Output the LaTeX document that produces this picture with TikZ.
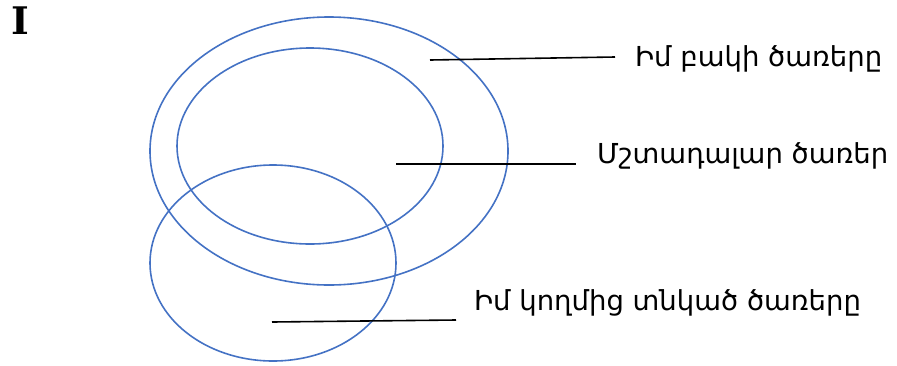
\documentclass[tikz,border=0pt]{standalone}
\usepackage{fontspec}
\setmainfont{DejaVu Sans}
\newfontfamily\romanI{DejaVu Serif}
\definecolor{ringblue}{HTML}{4472C4}
\begin{document}
\begin{tikzpicture}[x=1pt,y=-1pt,
  ring/.style={draw=ringblue,line width=1.6pt},
  leader/.style={draw=black,line width=1.6pt},
  lbl/.style={inner sep=0pt,font=\fontsize{27.5}{30}\selectfont}]
\useasboundingbox (0,0) rectangle (897,365);
\node[inner sep=0pt,font=\romanI\bfseries\fontsize{38}{42}\selectfont] (numI) at (20,21) {I};
\draw[ring] (329,151) ellipse [x radius=179, y radius=134];
\draw[ring] (310,146) ellipse [x radius=133, y radius=98];
\draw[ring] (273,263) ellipse [x radius=123, y radius=98];
\node[lbl,anchor=west] (t1) at (635,59) {Իմ բակի ծառերը};
\node[lbl,anchor=west] (t2) at (597,156) {Մշտադալար ծառեր};
\node[lbl,anchor=west] (t3) at (474,303) {Իմ կողմից տնկած ծառերը};
\coordinate (a1) at (430,60);
\coordinate (b1) at (615,57);
\coordinate (a2) at (396,164);
\coordinate (b2) at (576,164);
\coordinate (a3) at (272,322);
\coordinate (b3) at (456,320);
\draw[leader] (a1) -- (b1);
\draw[leader] (a2) -- (b2);
\draw[leader] (a3) -- (b3);
\end{tikzpicture}
\end{document}
